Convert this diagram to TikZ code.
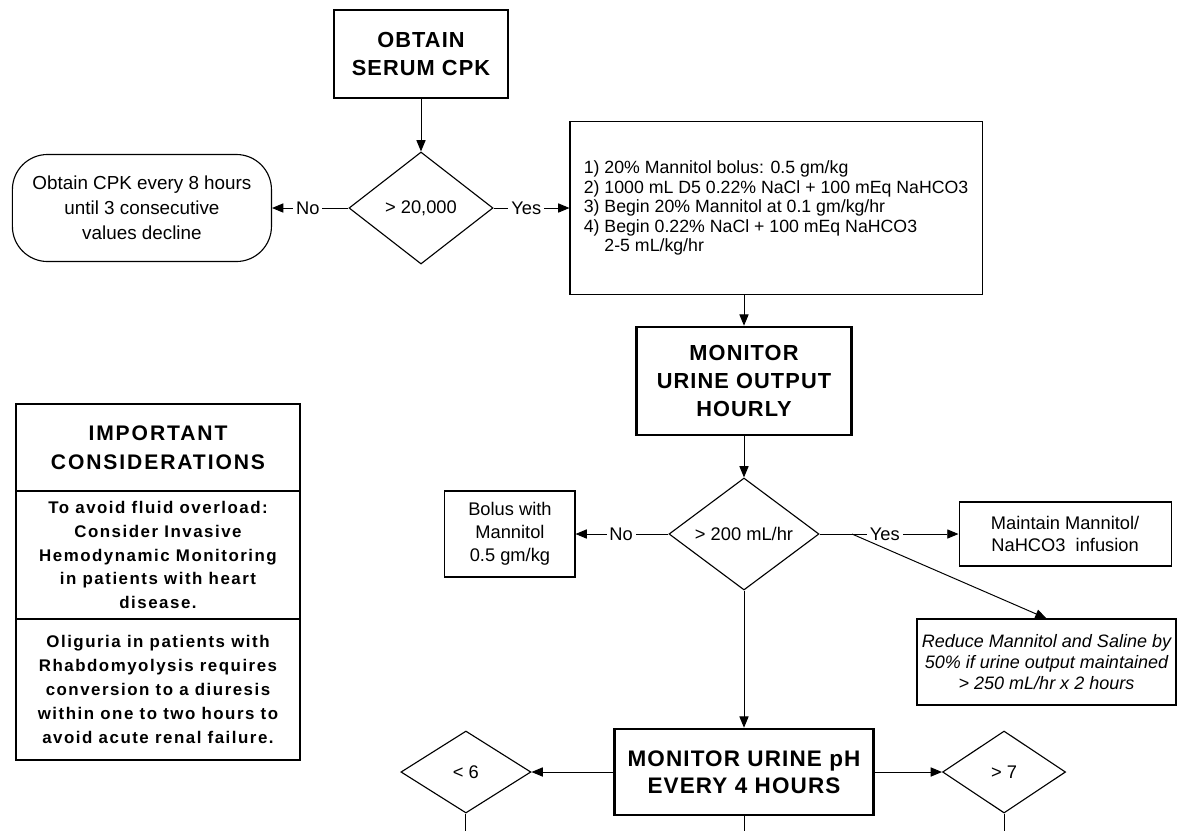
\documentclass[tikz,border=0pt]{standalone}
\usepackage{fontspec}
\setmainfont{Liberation Sans}
\newfontfamily\titlefont[LetterSpace=5]{Liberation Sans}
\newfontfamily\notefont[LetterSpace=9]{Liberation Sans}
\usetikzlibrary{shapes.geometric,arrows.meta}

\begin{document}
\begin{tikzpicture}[x=0.025cm, y=-0.025cm, line width=0.7pt, >={Triangle[length=8pt,width=6.5pt]},
                    title node/.style={rectangle,draw,line width=1.8pt,align=center,font=\titlefont\bfseries\fontsize{15.5pt}{20pt}\selectfont},
                    text node/.style={rectangle,draw,line width=0.8pt,align=center,font=\fontsize{13pt}{16pt}\selectfont},
                    decision node/.style={diamond,draw,line width=0.8pt,inner sep=0pt,font=\fontsize{13pt}{15pt}\selectfont},
                    label node/.style={fill=white,inner sep=2pt,font=\fontsize{13pt}{15pt}\selectfont},
                    note node/.style={rectangle,draw,line width=0.8pt,inner ysep=2pt,minimum width=7.1cm,align=center,font=\notefont\bfseries\fontsize{12pt}{17pt}\selectfont}]

\useasboundingbox (0,0) rectangle (1178,831);

\node[title node,minimum width=4.35cm,minimum height=2.2cm] (cpk) at (421,54) {OBTAIN\\SERUM CPK};
  \node[decision node,minimum width=3.6cm,minimum height=2.8cm] (gt20k) at (421,208) {> 20,000};
    \node[text node,rounded corners=25pt,minimum width=6.475cm,minimum height=2.675cm,font=\fontsize{13.4pt}{17.8pt}\selectfont] (every8) [left of=gt20k,node distance=6.975cm] {Obtain CPK every 8 hours\\until 3 consecutive\\values decline};
    \node[text node,align=left,minimum width=10.3cm,minimum height=4.325cm,font=\fontsize{12.6pt}{13.9pt}\selectfont] (treat) [right of=gt20k,node distance=8.875cm] {1) 20\% Mannitol bolus: 0.5 gm/kg\\2) 1000 mL D5 0.22\% NaCl + 100 mEq NaHCO3\\3) Begin 20\% Mannitol at 0.1 gm/kg/hr\\4) Begin 0.22\% NaCl + 100 mEq NaHCO3\\\hphantom{4)\ }2-5 mL/kg/hr};
  \node[title node,minimum width=5.375cm,minimum height=2.7cm] (urine) at (744,381) {MONITOR\\URINE OUTPUT\\HOURLY};
  \node[decision node,minimum width=3.75cm,minimum height=2.8cm] (gt200) at (744,534) {> 200 mL/hr};
    \node[text node,minimum width=3.25cm,minimum height=2.15cm,font=\fontsize{13pt}{16.4pt}\selectfont] (bolus) [left of=gt200,node distance=5.85cm] {Bolus with\\Mannitol\\0.5 gm/kg};
    \node[text node,minimum width=5.3cm,minimum height=1.6cm,font=\fontsize{13pt}{15pt}\selectfont] (maintain) [right of=gt200,node distance=8.025cm] {Maintain Mannitol/\\NaHCO3\ \ infusion};
    \node[text node,minimum width=6.475cm,minimum height=2.15cm,font=\itshape\fontsize{12.8pt}{15pt}\selectfont] (reduce) at (1046.5,662) {Reduce Mannitol and Saline by\\50\% if urine output maintained\\> 250 mL/hr x 2 hours};
  \node[title node,minimum width=6.475cm,minimum height=2.15cm,font=\titlefont\bfseries\fontsize{16pt}{19pt}\selectfont] (ph) at (744,772) {MONITOR URINE pH\\EVERY 4 HOURS};
    \node[decision node,minimum width=3.25cm,minimum height=2.05cm] (lt6) [left of=ph,node distance=6.95cm] {< 6};
    \node[decision node,minimum width=3.075cm,minimum height=2.05cm] (gt7) [right of=ph,node distance=6.5cm] {> 7};

\node[note node,minimum height=2.175cm,font=\notefont\bfseries\fontsize{15pt}{20.5pt}\selectfont] (important) at (158,447.5) {IMPORTANT\\CONSIDERATIONS};
  \node[note node,minimum height=3.2cm] (overload) at (158,555) {To avoid fluid overload:\\Consider Invasive\\Hemodynamic Monitoring\\in patients with heart\\disease.};
  \node[note node,minimum height=3.525cm] (oliguria) at (158,689.5) {Oliguria in patients with\\Rhabdomyolysis requires\\conversion to a diuresis\\within one to two hours to\\avoid acute renal failure.};

\coordinate (split) at (852,534);
\coordinate (bottom) at (0,831);

\draw[->] (cpk) -- (gt20k);
\draw[->] (gt20k) -- node[label node,pos=0.53] {No} (every8);
\draw[->] (gt20k) -- node[label node,pos=0.43] {Yes} (treat);
\draw[->] (urine.north |- treat.south) -- (urine.north);
\draw[->] (urine) -- (gt200);
\draw[->] (gt200) -- node[label node,pos=0.51] {No} (bolus);
\draw[->] (gt200) -- node[label node,pos=0.47] {Yes} (maintain);
\draw[->] (split) -- (reduce.north);
\draw[->] (gt200) -- (ph);
\draw[->] (ph) -- (lt6);
\draw[->] (ph) -- (gt7);
\draw (lt6.south) -- (lt6.south |- bottom);
\draw (ph.south) -- (ph.south |- bottom);
\draw (gt7.south) -- (gt7.south |- bottom);

\end{tikzpicture}
\end{document}
